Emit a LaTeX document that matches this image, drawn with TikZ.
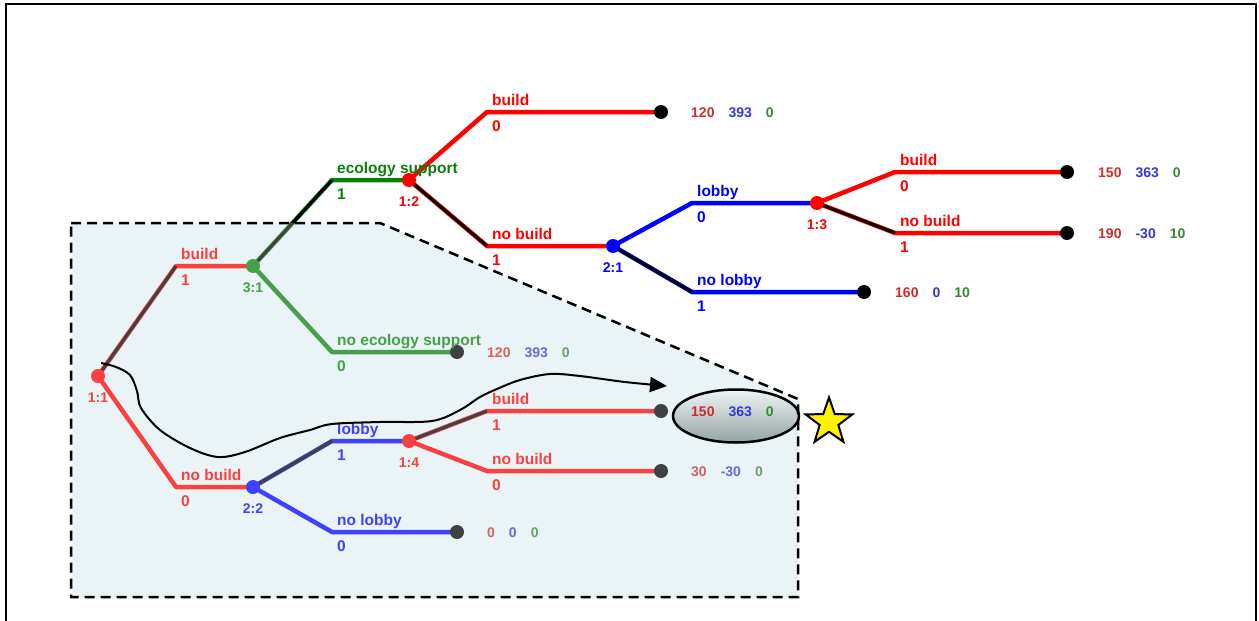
\documentclass[tikz,border=0pt]{standalone}
\usepackage{fontspec}
\setmainfont{Liberation Sans}
\usetikzlibrary{arrows.meta,shapes.geometric}

\definecolor{tred}{RGB}{255,0,0}
\definecolor{tgreen}{RGB}{10,128,10}
\definecolor{tblue}{RGB}{0,0,255}
\definecolor{pred}{RGB}{205,45,45}
\definecolor{pblue}{RGB}{55,55,215}
\definecolor{pgreen}{RGB}{55,135,55}
\definecolor{boxbg}{RGB}{234,243,245}
\definecolor{ellTop}{RGB}{240,244,244}
\definecolor{ellBot}{RGB}{148,164,164}

% payoff triple: player 1, player 2, player 3
\newcommand\payv[3]{\textcolor{pred}{#1}\hspace{14pt}\textcolor{pblue}{#2}\hspace{14pt}\textcolor{pgreen}{#3}}
% action name above and probability below a branch corner
\newcommand\brlab[4]{%
  \node[blab=#2] (#1-a) at ([shift={(5,-7)}]#1) {#3};
  \node[blab=#2] (#1-p) at ([shift={(5,19)}]#1) {#4};}

\begin{document}
\begin{tikzpicture}[x=1pt,y=-1pt,
  br/.style={line width=4.5pt, line join=round},
  eqpath/.style={line width=3pt, black, line join=round},
  dec/.style={circle, fill=#1, minimum size=14pt, inner sep=0pt},
  term/.style={circle, fill=black, minimum size=14pt, inner sep=0pt},
  nlab/.style={font=\fontsize{14}{14}\selectfont\bfseries, text=#1, inner sep=0pt, anchor=base},
  blab/.style={font=\fontsize{15.5}{15.5}\selectfont\bfseries, text=#1, inner sep=0pt, anchor=base west},
  pay/.style={font=\fontsize{14}{14}\selectfont\bfseries, inner sep=0pt, anchor=base west},
]
\useasboundingbox (0,0) rectangle (1259,621);

% outer frame
\draw[line width=2.5pt] (6,621) -- (6,4) -- (1256,4) -- (1256,621);

% shaded sub-game region
\coordinate (b1) at (71,223);
\coordinate (b2) at (380,223);
\coordinate (b3) at (798,399);
\coordinate (b4) at (798,597);
\coordinate (b5) at (71,597);
\fill[boxbg] (b1) -- (b2) -- (b3) -- (b4) -- (b5) -- cycle;

% decision points, corners and leaves
\coordinate (p11) at (98,376);
\coordinate (c1b) at (176,266);
\coordinate (p31) at (253,266);
\coordinate (c3e) at (332,180);
\coordinate (p12) at (409,180);
\coordinate (c2b) at (487,112);
\coordinate (q1)  at (661,112);
\coordinate (c2n) at (487,246);
\coordinate (p21) at (613,246);
\coordinate (c4l) at (692,203);
\coordinate (p13) at (817,203);
\coordinate (c5b) at (895,172);
\coordinate (q2)  at (1067,172);
\coordinate (c5n) at (895,233);
\coordinate (q3)  at (1067,233);
\coordinate (c4n) at (692,292);
\coordinate (q4)  at (864,292);
\coordinate (c3n) at (332,352);
\coordinate (q5)  at (457,352);
\coordinate (c1n) at (176,487);
\coordinate (p22) at (253,487);
\coordinate (c6l) at (332,441);
\coordinate (p14) at (409,441);
\coordinate (c7b) at (487,411);
\coordinate (q6)  at (661,411);
\coordinate (c7n) at (487,471);
\coordinate (q7)  at (661,471);
\coordinate (c6n) at (332,532);
\coordinate (q8)  at (457,532);

% branches
\draw[br, tred]   (p11) -- (c1b) -- (p31);
\draw[br, tred]   (p11) -- (c1n) -- (p22);
\draw[br, tgreen] (p31) -- (c3e) -- (p12);
\draw[br, tgreen] (p31) -- (c3n) -- (q5);
\draw[br, tred]   (p12) -- (c2b) -- (q1);
\draw[br, tred]   (p12) -- (c2n) -- (p21);
\draw[br, tblue]  (p21) -- (c4l) -- (p13);
\draw[br, tblue]  (p21) -- (c4n) -- (q4);
\draw[br, tred]   (p13) -- (c5b) -- (q2);
\draw[br, tred]   (p13) -- (c5n) -- (q3);
\draw[br, tblue]  (p22) -- (c6l) -- (p14);
\draw[br, tblue]  (p22) -- (c6n) -- (q8);
\draw[br, tred]   (p14) -- (c7b) -- (q6);
\draw[br, tred]   (p14) -- (c7n) -- (q7);

% equilibrium choices
\draw[eqpath] (p11) -- (c1b);
\draw[eqpath] (p31) -- (c3e);
\draw[eqpath] (p12) -- (c2n);
\draw[eqpath] (p21) -- (c4n);
\draw[eqpath] (p13) -- (c5n);
\draw[eqpath] (p22) -- (c6l);
\draw[eqpath] (p14) -- (c7b);

% decision nodes
\node[dec=tred]   (n11) at (p11) {};
\node[dec=tgreen] (n31) at (p31) {};
\node[dec=tred]   (n12) at (p12) {};
\node[dec=tblue]  (n21) at (p21) {};
\node[dec=tred]   (n13) at (p13) {};
\node[dec=tblue]  (n22) at (p22) {};
\node[dec=tred]   (n14) at (p14) {};

% leaves
\node[term] (t1) at (q1) {};
\node[term] (t2) at (q2) {};
\node[term] (t3) at (q3) {};
\node[term] (t4) at (q4) {};
\node[term] (t5) at (q5) {};
\node[term] (t6) at (q6) {};
\node[term] (t7) at (q7) {};
\node[term] (t8) at (q8) {};

% node labels
\node[nlab=tred]   (l11) at ([shift={(0,26)}]p11) {1:1};
\node[nlab=tgreen] (l31) at ([shift={(0,26)}]p31) {3:1};
\node[nlab=tred]   (l12) at ([shift={(0,26)}]p12) {1:2};
\node[nlab=tblue]  (l21) at ([shift={(0,26)}]p21) {2:1};
\node[nlab=tred]   (l13) at ([shift={(0,26)}]p13) {1:3};
\node[nlab=tblue]  (l22) at ([shift={(0,26)}]p22) {2:2};
\node[nlab=tred]   (l14) at ([shift={(0,26)}]p14) {1:4};

% branch labels
\brlab{c1b}{tred}{build}{1}
\brlab{c1n}{tred}{no build}{0}
\brlab{c3e}{tgreen}{ecology support}{1}
\brlab{c3n}{tgreen}{no ecology support}{0}
\brlab{c2b}{tred}{build}{0}
\brlab{c2n}{tred}{no build}{1}
\brlab{c4l}{tblue}{lobby}{0}
\brlab{c4n}{tblue}{no lobby}{1}
\brlab{c5b}{tred}{build}{0}
\brlab{c5n}{tred}{no build}{1}
\brlab{c6l}{tblue}{lobby}{1}
\brlab{c6n}{tblue}{no lobby}{0}
\brlab{c7b}{tred}{build}{1}
\brlab{c7n}{tred}{no build}{0}

% payoffs
\node[pay] (v1) at (691,117.5)  {\payv{120}{393}{0}};
\node[pay] (v2) at (1098,177.5) {\payv{150}{363}{0}};
\node[pay] (v3) at (1098,238.5) {\payv{190}{-30}{10}};
\node[pay] (v4) at (895,297.5)  {\payv{160}{0}{10}};
\node[pay] (v5) at (487,357.5)  {\payv{120}{393}{0}};
\node[pay] (v7) at (691,476.5)  {\payv{30}{-30}{0}};
\node[pay] (v8) at (487,537.5)  {\payv{0}{0}{0}};

% wash over the sub-game region
\fill[boxbg, fill opacity=0.27] (b1) -- (b2) -- (b3) -- (b4) -- (b5) -- cycle;

% highlighted outcome
\node[ellipse, draw=black, line width=2.5pt, minimum width=126pt, minimum height=53pt,
      inner sep=0pt, top color=ellTop, bottom color=ellBot] (hl) at (736,416) {};
\node[pay] (v6) at (691,416.5) {\payv{150}{363}{0}};

% pointer from the root to the highlighted outcome
\coordinate (cs) at (101,363);
\coordinate (ce) at (667,386);
\draw[line width=2pt, -{Triangle[length=17pt,width=15pt]}]
  plot[smooth, tension=0.55] coordinates {(cs) (116,367) (130,375) (137,391) (141,408)
    (160,430) (190,448) (218,457) (245,452) (280,438) (310,430) (332,424) (380,422)
    (432,421) (460,410) (480,397) (497,389) (520,380) (550,374) (580,376) (625,382) (ce)};

% dashed outline of the sub-game region
\draw[line width=2.5pt, dash pattern=on 10pt off 6pt]
  (b1) -- (b2) -- (b3) -- (b4) -- (b5) -- cycle;

% star mark
\node[star, star points=5, star point ratio=2.5, minimum size=49pt, inner sep=0pt,
      fill=yellow, draw=black, line width=2pt] (st) at (829,422) {};
\end{tikzpicture}
\end{document}
